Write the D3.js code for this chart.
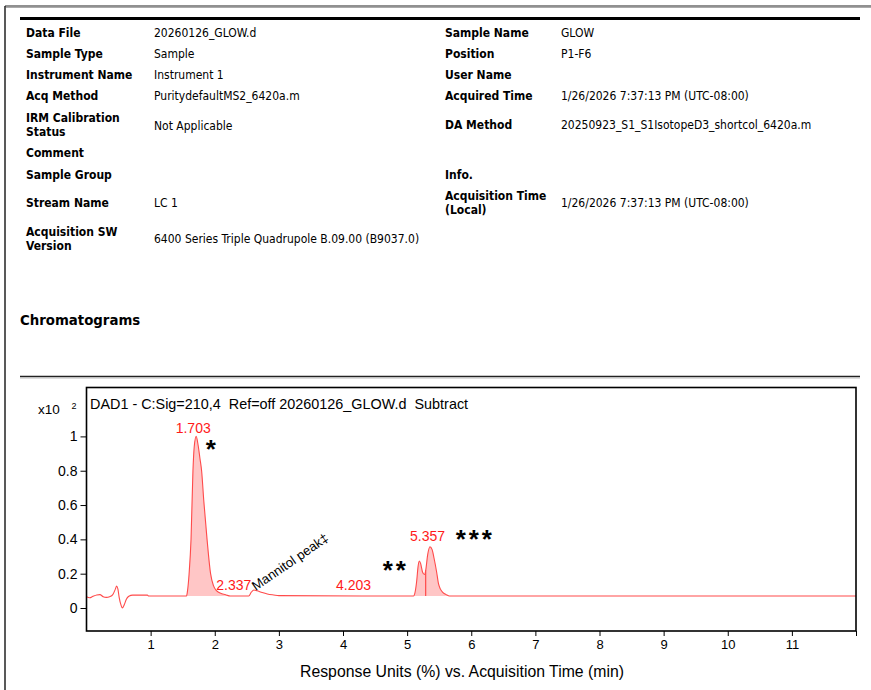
<!DOCTYPE html>
<html>
<head>
<meta charset="utf-8">
<script src="https://cdn.jsdelivr.net/npm/d3@7"></script>
<style>
  html, body { margin: 0; padding: 0; background: #fff; }
  svg { display: block; }
  .hl { font-family: "DejaVu Sans Condensed", "DejaVu Sans", sans-serif; font-size: 12px; font-weight: bold; fill: #000; }
  .hv { font-family: "DejaVu Sans Condensed", "DejaVu Sans", sans-serif; font-size: 12px; fill: #000; }
  .ch { font-family: "Liberation Sans", Arial, sans-serif; }
  .pre { white-space: pre; }
</style>
</head>
<body>
<svg id="c" width="871" height="690"></svg>
<script>
// ---------- Data ----------
const leftFields = [
  { label: ["Data File"], value: "20260126_GLOW.d" },
  { label: ["Sample Type"], value: "Sample" },
  { label: ["Instrument Name"], value: "Instrument 1" },
  { label: ["Acq Method"], value: "PuritydefaultMS2_6420a.m" },
  { label: ["IRM Calibration", "Status"], value: "Not Applicable" },
  { label: ["Comment"], value: "" },
  { label: ["Sample Group"], value: "" },
  { label: ["Stream Name"], value: "LC 1" },
  { label: ["Acquisition SW", "Version"], value: "6400 Series Triple Quadrupole B.09.00 (B9037.0)" }
];
const rightFields = [
  { label: ["Sample Name"], value: "GLOW" },
  { label: ["Position"], value: "P1-F6" },
  { label: ["User Name"], value: "" },
  { label: ["Acquired Time"], value: "1/26/2026 7:37:13 PM (UTC-08:00)" },
  { label: ["DA Method"], value: "20250923_S1_S1IsotopeD3_shortcol_6420a.m" },
  { label: ["Info."], value: "" },
  { label: ["Acquisition Time", "(Local)"], value: "1/26/2026 7:37:13 PM (UTC-08:00)" }
];

const chartTitle = "DAD1 - C:Sig=210,4  Ref=off 20260126_GLOW.d  Subtract";
const xTicks = [1, 2, 3, 4, 5, 6, 7, 8, 9, 10, 11, 12];
const xTickLabels = ["1", "2", "3", "4", "5", "6", "7", "8", "9", "10", "11", ""];
const yTicks = [0, 0.2, 0.4, 0.6, 0.8, 1];
const yTickLabels = ["0", "0.2", "0.4", "0.6", "0.8", "1"];

// chromatogram trace (time in min, response x10^2)
const time = [0.00,0.05,0.10,0.16,0.21,0.26,0.31,0.36,0.41,0.45,0.47,0.49,0.51,0.54,0.56,0.59,0.62,0.66,0.72,0.95,0.97,
  1.56,1.575,1.60,1.63,1.66,1.68,1.71,1.74,1.77,1.795,1.83,1.88,1.935,1.98,2.03,2.10,2.18,2.24,
  2.53,2.57,2.61,2.66,2.74,2.82,2.92,3.00,
  5.10,5.12,5.15,5.17,5.19,5.21,5.24,5.27,5.29,5.32,5.356,5.39,5.42,5.46,5.49,5.52,5.56,5.61,5.66,12.0];
const signal = [0.066,0.060,0.068,0.076,0.078,0.066,0.062,0.066,0.078,0.110,0.128,0.110,0.060,0.015,0.000,0.020,0.050,0.068,0.075,0.075,0.070,
  0.070,0.100,0.200,0.400,0.800,0.940,1.000,0.950,0.870,0.800,0.620,0.400,0.200,0.130,0.100,0.085,0.076,0.070,
  0.070,0.092,0.105,0.100,0.090,0.082,0.076,0.072,
  0.070,0.085,0.160,0.240,0.274,0.260,0.210,0.195,0.220,0.310,0.357,0.340,0.290,0.210,0.140,0.110,0.090,0.078,0.070,0.070];

// integrated regions and drop lines
const fillStart = [1.56, 5.10];
const fillEnd = [2.24, 5.66];
const dropLines = [5.29];

// peak labels
const peakRT = [1.703, 2.337, 4.203, 5.357];
const peakLabelLevel = [1.0, 0.07, 0.07, 0.357];

// annotations
const starText = ["*", "**", "***"];
const starX = [1.94, 4.80, 6.04];
const starY = [0.876, 0.169, 0.35];
const mannitolText = "Mannitol peak\u2021";
const mannitolAt = [2.64, 0.105];

// ---------- Drawing ----------
const svg = d3.select("#c");

// page frame lines
svg.append("line").attr("x1", 5).attr("x2", 871).attr("y1", 6).attr("y2", 6).attr("stroke", "#222").attr("stroke-width", 1.2);
svg.append("line").attr("x1", 6).attr("x2", 871).attr("y1", 7.5).attr("y2", 7.5).attr("stroke", "#aaa").attr("stroke-width", 1);
svg.append("line").attr("x1", 5).attr("x2", 5).attr("y1", 6).attr("y2", 690).attr("stroke", "#222").attr("stroke-width", 1.5);
svg.append("line").attr("x1", 20).attr("x2", 860).attr("y1", 18.5).attr("y2", 18.5).attr("stroke", "#000").attr("stroke-width", 3);

// header table
function drawFields(fields, lx, vx, baselines) {
  fields.forEach((f, i) => {
    const b = baselines[i];
    const t = svg.append("text").attr("class", "hl").attr("x", lx).attr("y", b[0]);
    f.label.forEach((l, j) => {
      t.append("tspan").attr("x", lx).attr("y", b[0] + j * 14).text(l);
    });
    if (f.value) svg.append("text").attr("class", "hv").attr("x", vx).attr("y", b[1]).text(f.value);
  });
}
drawFields(leftFields, 26, 154, [[37,37],[58,58],[79,79],[100,100],[122,130],[157,157],[179,179],[207,207],[235.5,242.5]]);
drawFields(rightFields, 445, 561, [[37,37],[58,58],[79,79],[100,100],[129,129],[179,179],[200,207]]);

svg.append("text").attr("x", 20).attr("y", 325)
  .style("font-family", "'DejaVu Sans Condensed', 'DejaVu Sans', sans-serif")
  .style("font-size", "14.8px").style("font-weight", "bold").text("Chromatograms");

svg.append("line").attr("x1", 20).attr("x2", 860).attr("y1", 376.5).attr("y2", 376.5).attr("stroke", "#222").attr("stroke-width", 1.3);
svg.append("line").attr("x1", 20).attr("x2", 860).attr("y1", 378).attr("y2", 378).attr("stroke", "#bbb").attr("stroke-width", 1);

// chart
const plot = { l: 86.5, r: 856, t: 387.5, b: 631 };
const x = d3.scaleLinear().domain([0, 12]).range([plot.l, plot.r]);
const y = d3.scaleLinear().domain([-0.134, 1.285]).range([plot.b, plot.t]);

const pts = time.map((t, i) => [t, signal[i]]);
const line = d3.line().x(d => x(d[0])).y(d => y(d[1])).curve(d3.curveMonotoneX);

const interp = t => {
  const i = d3.bisectLeft(time, t);
  if (i <= 0) return signal[0];
  if (time[i] === t) return signal[i];
  const t0 = time[i - 1], t1 = time[i];
  return signal[i - 1] + (signal[i] - signal[i - 1]) * (t - t0) / (t1 - t0);
};

const g = svg.append("g").attr("class", "ch");

// fills
fillStart.forEach((s, k) => {
  const e = fillEnd[k];
  const seg = pts.filter(d => d[0] >= s && d[0] <= e);
  const b0 = interp(s), b1 = interp(e);
  const base = t => b0 + (b1 - b0) * (t - s) / (e - s);
  const area = d3.area().x(d => x(d[0])).y1(d => y(d[1])).y0(d => y(base(d[0]))).curve(d3.curveMonotoneX);
  g.append("path").attr("d", area(seg)).attr("fill", "#ffc6c6").attr("stroke", "none");
});

// drop lines
dropLines.forEach(t => {
  g.append("line").attr("x1", x(t)).attr("x2", x(t)).attr("y1", y(0.07)).attr("y2", y(interp(t)))
    .attr("stroke", "#ff3030").attr("stroke-width", 1);
});

// trace
g.append("path").attr("d", line(pts)).attr("fill", "none").attr("stroke", "#ff4a4a").attr("stroke-width", 1.1);

// frame
g.append("rect").attr("x", plot.l).attr("y", plot.t).attr("width", plot.r - plot.l).attr("height", plot.b - plot.t)
  .attr("fill", "none").attr("stroke", "#000").attr("stroke-width", 1.6);

// axes
const xAxis = d3.axisBottom(x).tickValues(xTicks).tickFormat((d, i) => xTickLabels[i]).tickSizeOuter(0).tickSize(5).tickPadding(4);
const xg = g.append("g").attr("transform", `translate(0,${plot.b})`).call(xAxis);
xg.select(".domain").remove();
xg.selectAll("text").style("font-family", "'Liberation Sans', Arial, sans-serif").style("font-size", "13px").attr("fill", "#000");
xg.selectAll("line").attr("stroke", "#000");

const yAxis = d3.axisLeft(y).tickValues(yTicks).tickFormat((d, i) => yTickLabels[i]).tickSizeOuter(0).tickSize(6).tickPadding(3);
const yg = g.append("g").attr("transform", `translate(${plot.l},0)`).call(yAxis);
yg.select(".domain").remove();
yg.selectAll("text").style("font-family", "'Liberation Sans', Arial, sans-serif").style("font-size", "14px").attr("fill", "#000");
yg.selectAll("line").attr("stroke", "#000");

// exponent
g.append("text").attr("x", 38).attr("y", 414).style("font-size", "13.5px").attr("fill", "#000").text("x10");
g.append("text").attr("x", 71.5).attr("y", 409).style("font-size", "9px").attr("fill", "#000").text("2");

// title
g.append("text").attr("class", "pre").attr("x", 90).attr("y", 408.5).style("font-size", "14.4px").attr("fill", "#000").text(chartTitle);

// peak labels
peakRT.forEach((rt, i) => {
  g.append("text").attr("x", x(rt) - 2.5).attr("y", y(peakLabelLevel[i]) - (i === 0 ? 3 : 5.5))
    .attr("text-anchor", "middle").style("font-size", "14px").attr("fill", "#ff1a1a").text(rt.toFixed(3));
});

// asterisks
starText.forEach((s, i) => {
  g.append("text").attr("x", x(starX[i]) + 1.5).attr("y", y(starY[i])).attr("text-anchor", "middle")
    .style("font-size", "26px").style("font-weight", "bold").style("letter-spacing", "3px")
    .attr("fill", "#000").text(s);
});

// mannitol annotation
g.append("text").attr("transform", `translate(${x(mannitolAt[0])},${y(mannitolAt[1]) + 1}) rotate(-34.5)`)
  .style("font-size", "13.2px").attr("fill", "#000").text(mannitolText);

// x axis title
g.append("text").attr("x", 462).attr("y", 677).attr("text-anchor", "middle").style("font-size", "15.8px").attr("fill", "#000")
  .text("Response Units (%) vs. Acquisition Time (min)");
</script>
</body>
</html>
